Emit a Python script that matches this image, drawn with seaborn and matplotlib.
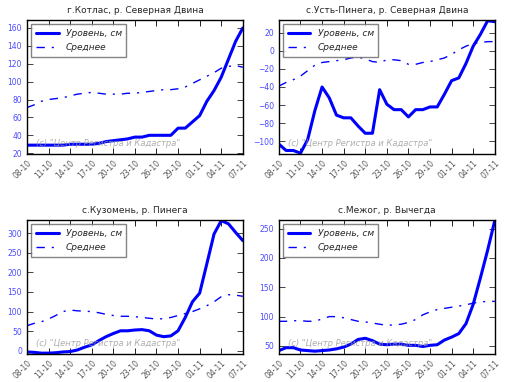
import numpy as np
import pandas as pd
import matplotlib
matplotlib.use('Agg')
import matplotlib.pyplot as plt
import matplotlib.dates as mdates
import seaborn as sns

# ── Data ──────────────────────────────────────────────────────────────────────
dates = pd.date_range('2015-10-08', '2015-11-07', freq='D')

titles = ['г.Котлас, р. Северная Двина', 'с.Усть-Пинега, р. Северная Двина',
          'с.Кузомень, р. Пинега', 'с.Межог, р. Вычегда']

kotlas_level = [29, 29, 29, 29, 29, 29, 30, 30, 30, 30, 31, 33, 34, 35, 36, 38,
                38, 40, 40, 40, 40, 48, 48, 55, 62, 78, 90, 105, 125, 145, 160]
kotlas_mean = [71, 74, 78, 80, 81, 82, 84, 86, 87, 88, 87, 86, 86, 86, 87, 87,
               88, 89, 90, 91, 91, 92, 94, 98, 102, 106, 110, 115, 117, 118, 116]

ustp_level = [-103, -110, -110, -113, -98, -66, -40, -52, -71, -74, -74, -83, -91,
              -91, -43, -59, -65, -65, -73, -65, -65, -62, -62, -48, -33, -30, -14,
              5, 18, 33, 32]
ustp_mean = [-39, -35, -32, -28, -22, -16, -13, -12, -11, -10, -8, -7, -9, -12,
             -13, -10, -10, -11, -15, -15, -13, -12, -10, -8, -4, 1, 5, 8, 9, 10, 10]

kuz_level = [-3, -4, -6, -6, -5, -3, -2, 2, 9, 15, 26, 36, 44, 51, 51, 53, 54,
             51, 40, 36, 38, 51, 85, 125, 147, 222, 298, 332, 324, 302, 281]
kuz_mean = [64, 70, 74, 81, 90, 100, 104, 102, 101, 100, 97, 93, 90, 88, 88, 87,
            85, 83, 81, 82, 85, 90, 95, 100, 107, 115, 125, 138, 143, 142, 139]

mezh_level = [42, 47, 47, 43, 42, 41, 42, 43, 45, 48, 53, 61, 63, 59, 53, 52, 53,
              53, 51, 51, 49, 51, 52, 60, 65, 71, 88, 121, 166, 213, 264]
mezh_mean = [92, 92, 93, 93, 92, 92, 96, 100, 100, 98, 95, 92, 91, 89, 87, 85, 86,
             87, 90, 95, 103, 108, 112, 114, 116, 118, 120, 123, 125, 126, 126]

levels = [kotlas_level, ustp_level, kuz_level, mezh_level]
means = [kotlas_mean, ustp_mean, kuz_mean, mezh_mean]
ylims = [(19, 169), (-114, 34), (-8.5, 334), (36, 265)]
yticks = [range(20, 161, 20), range(-100, 21, 20), range(0, 301, 50), range(50, 251, 50)]

# ── Style ─────────────────────────────────────────────────────────────────────
sns.set_style('ticks', {'xtick.direction': 'in', 'ytick.direction': 'in'})
plt.rcParams['font.family'] = ['DejaVu Sans']

fig, axes = plt.subplots(2, 2, figsize=(5.08, 3.82), dpi=100)
fig.subplots_adjust(left=0.053, right=0.974, top=0.948, bottom=0.073,
                    wspace=0.167, hspace=0.49)

for ax, title, lev, avg, yl, yt in zip(axes.flat, titles, levels, means, ylims, yticks):
    df = pd.DataFrame({'date': dates, 'level': lev, 'mean': avg})
    sns.lineplot(data=df, x='date', y='level', ax=ax, color='#0000ff', lw=2.2,
                 label='Уровень, см')
    sns.lineplot(data=df, x='date', y='mean', ax=ax, color='#0000ff', lw=1,
                 linestyle=(0, (6, 5, 1.5, 5)), label='Среднее')
    ax.set_title(title, fontsize=6.5, pad=5)
    ax.set_xlim(dates[0], dates[-1])
    ax.set_ylim(*yl)
    ax.set_yticks(list(yt))
    ax.set_xticks(dates[::3])
    ax.xaxis.set_major_formatter(mdates.DateFormatter('%d-%m'))
    ax.tick_params(axis='x', labelsize=5.5, rotation=45, labelcolor='#555555',
                   color='black', top=True, length=4, width=0.6)
    ax.tick_params(axis='y', labelsize=5.5, labelcolor='#4a4aff', right=True,
                   length=4, width=0.6)
    for lbl in ax.get_xticklabels():
        lbl.set_ha('right')
        lbl.set_rotation_mode('anchor')
    ax.set_xlabel('')
    ax.set_ylabel('')
    for sp in ax.spines.values():
        sp.set_linewidth(1)
        sp.set_color('black')
    leg = ax.legend(loc='upper left', fontsize=6.5, frameon=True, fancybox=False,
                    edgecolor='#666666', handlelength=2.5, borderpad=0.5,
                    labelspacing=0.6)
    for t in leg.get_texts():
        t.set_style('italic')
    ax.text(0.04, 0.06, '(c) "Центр Регистра и Кадастра"', transform=ax.transAxes,
            fontsize=6, style='italic', color='#999999', alpha=0.8)

plt.savefig('out.png', dpi=100)
